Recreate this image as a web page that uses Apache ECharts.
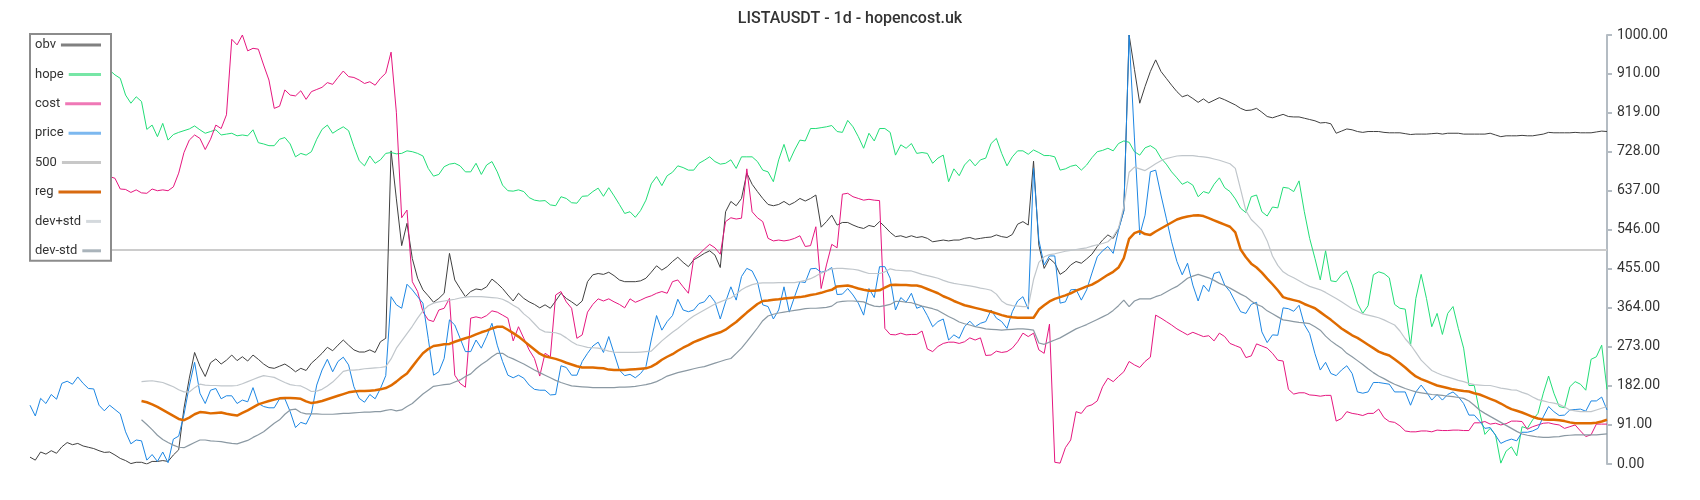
<!DOCTYPE html>
<html>
<head>
<meta charset="utf-8">
<script src="https://cdn.jsdelivr.net/npm/echarts@6/dist/echarts.min.js"></script>
<style>html,body{margin:0;padding:0;background:#fff;}#c{width:1700px;height:500px;}</style>
</head>
<body>
<div id="c"></div>
<script>
const titleText = 'LISTAUSDT - 1d - hopencost.uk';
const seriesNames = ['obv', 'hope', 'cost', 'price', '500', 'reg', 'dev+std', 'dev-std'];
const level500 = 500;
const yTickMin = 0, yTickMax = 1000, yTickStep = 91;

const obv = [
16,9,28,23,31,25,40,50,45,48,
42,39,36,31,27,28,21,13,8,1,
4,4,0,6,6,8,6,21,33,130,
200,260,228,204,236,245,233,242,254,241,
250,240,254,244,233,225,223,228,233,225,
215,223,218,235,246,258,272,264,277,289,
277,266,261,261,266,260,285,293,730,618,
509,561,479,433,406,392,377,386,398,491,
429,409,390,402,408,406,413,431,421,409,
394,380,398,386,378,372,364,371,363,380,
398,386,378,369,380,425,441,444,442,447,
439,429,425,425,425,427,433,447,462,452,
460,472,482,470,460,476,483,491,497,487,
458,588,612,602,619,678,652,635,619,605,
602,605,612,604,610,619,613,619,627,552,
565,580,557,563,563,557,552,549,556,553,
565,553,540,530,532,528,532,528,530,526,
518,520,522,520,522,522,526,528,524,526,
528,529,534,530,528,535,559,565,557,706,
510,456,479,468,442,450,464,472,468,478,
489,507,522,534,526,548,590,1000,920,841,
880,915,942,915,899,883,868,856,860,852,
843,851,842,848,854,849,843,837,829,824,
825,829,820,810,807,811,815,810,809,809,
806,803,800,795,796,793,771,776,781,779,
775,773,775,775,775,773,772,772,772,770,
768,769,769,769,770,771,769,771,771,771,
769,769,769,769,769,771,767,763,765,765,
765,766,765,765,767,769,773,772,772,772,
772,773,772,772,772,774,776,775];

const hope = [
960,955,950,948,945,940,938,935,933,930,
928,925,924,922,920,918,907,899,860,841,
856,845,780,790,763,794,755,768,773,777,
781,788,779,771,775,779,767,769,771,765,
767,765,779,749,746,742,742,757,761,746,
716,724,720,728,757,780,790,771,779,786,
777,740,707,695,718,701,709,724,726,723,
724,730,728,724,718,689,671,675,693,699,
701,695,681,681,701,675,697,705,681,650,
637,636,639,635,621,615,613,614,604,602,
623,619,609,608,624,625,635,643,624,644,
625,605,584,588,575,591,615,653,670,649,
672,680,695,691,685,685,701,708,716,705,
699,701,709,689,716,716,716,705,685,681,
658,709,745,705,732,755,753,782,782,784,
786,789,775,773,801,786,763,736,771,753,
782,782,773,720,744,736,747,724,726,724,
701,713,720,658,688,672,697,710,695,709,
713,747,759,724,695,716,730,730,722,732,
726,719,719,716,685,688,694,697,685,697,
714,728,731,736,730,747,753,750,728,720,
737,742,734,713,699,681,667,652,658,650,
623,635,631,652,667,644,635,618,596,586,
623,627,588,578,599,597,645,643,635,660,
588,526,479,429,497,427,425,441,450,417,
375,351,369,441,448,444,434,372,363,361,
276,386,442,386,320,351,302,351,367,316,
270,183,183,122,69,83,68,2,30,40,
19,87,83,103,118,165,205,165,134,131,
180,192,186,172,244,250,277,174];

const cost = [
690,688,686,684,682,680,679,678,676,675,
674,673,672,671,670,670,666,641,640,633,
639,632,631,641,637,639,637,646,678,726,
755,767,759,733,757,790,782,814,990,977,
1000,963,969,967,930,895,829,834,872,860,
858,870,850,868,873,878,889,885,901,916,
903,901,895,887,891,883,899,911,960,820,
574,592,425,402,355,336,332,359,363,386,
207,188,179,340,343,340,346,357,354,347,
340,287,320,293,266,246,205,258,250,394,
402,378,363,293,301,354,372,385,380,385,
378,372,364,385,377,382,388,392,398,402,
398,425,429,413,398,479,489,501,512,504,
489,565,574,571,573,688,588,574,565,526,
520,522,520,522,526,532,507,509,553,409,
464,512,504,629,631,623,619,615,617,615,
614,316,302,301,305,301,302,302,310,268,
262,274,281,284,284,281,285,294,289,294,
253,254,263,260,262,270,285,305,297,305,
266,258,326,4,2,38,56,122,118,134,
138,147,180,200,192,204,215,239,231,225,
239,249,347,340,332,324,315,308,301,307,
302,297,299,287,305,297,281,276,271,248,
252,280,275,270,258,242,240,174,163,166,
166,161,160,158,160,160,100,106,122,118,
116,113,118,118,128,108,99,97,89,77,
75,75,77,77,75,79,78,78,79,79,
78,78,96,96,99,93,95,91,94,100,
100,99,81,87,91,95,96,93,91,83,
87,91,77,64,68,93,93,93];

const price = [
137,112,153,141,162,151,188,193,186,203,
188,176,175,137,124,137,127,117,75,47,
56,54,9,22,6,28,3,58,65,115,
182,237,165,141,172,176,152,159,159,141,
149,145,178,141,134,131,131,152,152,122,
85,97,93,118,184,219,244,215,239,249,
231,180,153,144,162,152,176,206,390,371,
363,419,406,390,375,293,207,215,246,336,
324,293,262,262,289,270,297,328,277,239,
207,201,207,200,184,174,172,172,161,162,
229,225,207,207,239,258,275,284,260,297,
258,219,206,209,201,211,227,289,346,312,
332,346,384,359,355,359,374,378,394,378,
338,378,413,382,437,456,450,425,371,367,
338,359,413,354,390,425,423,455,456,447,
450,458,395,396,409,394,375,347,409,388,
460,460,433,359,388,377,398,363,368,346,
320,332,338,289,301,293,320,333,320,328,
332,359,340,332,316,355,380,390,361,690,
522,464,485,485,375,378,406,407,382,406,
445,483,497,507,491,545,590,1000,760,534,
580,681,685,627,573,518,472,441,468,417,
380,417,402,444,448,417,402,378,355,351,
372,377,308,283,301,300,364,362,356,370,
325,304,257,219,237,211,206,219,229,211,
168,165,168,190,190,188,186,168,168,168,
137,168,184,168,149,162,149,162,168,157,
141,114,114,100,83,85,67,48,54,58,
54,74,74,77,83,110,134,122,113,114,
126,127,128,123,147,147,156,126];

const reg = [
null,null,null,null,null,null,null,null,null,null,
null,null,null,null,null,null,null,null,null,null,
null,147,144,139,133,126,119,112,105,102,
108,116,121,120,118,119,120,117,115,113,
119,125,132,139,143,147,150,153,154,154,
153,152,146,142,144,147,151,155,159,163,
167,169,170,170,171,172,174,177,183,192,
202,211,227,243,258,268,275,277,279,280,
285,289,293,297,302,307,311,316,320,320,
313,305,297,287,277,267,257,251,248,245,
241,236,232,228,225,225,225,224,223,220,
219,219,219,220,221,222,223,227,234,243,
250,256,264,271,277,284,289,294,299,303,
307,313,322,331,342,353,363,373,380,381,
383,384,386,387,388,389,391,394,396,399,
403,406,414,415,416,413,409,406,404,404,
405,411,417,418,417,417,416,416,413,408,
403,398,391,386,380,375,370,367,364,361,
358,355,351,347,344,342,341,341,341,341,
360,370,379,385,389,393,398,404,409,414,
418,425,433,441,448,458,480,525,538,543,
536,534,542,549,556,563,570,574,577,579,
580,578,573,568,563,558,553,540,500,482,
467,458,446,432,419,405,389,385,382,379,
373,368,363,354,345,336,326,316,308,300,
294,286,278,270,262,257,253,244,235,225,
214,204,198,193,188,183,180,177,174,172,
170,169,165,162,157,152,147,141,134,128,
124,120,115,110,106,104,103,103,102,100,
97,95,95,95,95,96,99,103];

const devPlus = [
null,null,null,null,null,null,null,null,null,null,
null,null,null,null,null,null,null,null,null,null,
null,192,193,194,192,190,185,180,173,168,
168,178,186,184,183,183,182,182,182,183,
187,192,197,202,206,204,202,196,190,185,
183,182,176,169,170,174,182,191,203,216,
219,219,220,222,223,224,225,227,245,270,
287,304,321,340,357,369,375,378,380,382,
384,387,389,390,390,390,389,388,387,384,
378,370,363,350,340,327,314,308,307,306,
302,294,285,278,275,272,271,270,267,263,
261,260,260,260,260,261,262,263,275,287,
297,307,316,326,336,345,352,359,366,373,
378,383,387,396,406,413,418,421,422,422,
422,423,423,423,423,425,428,432,438,445,
450,455,456,456,455,454,452,448,444,444,
444,448,455,452,451,450,450,446,442,439,
436,433,428,424,421,419,417,415,413,410,
408,405,396,380,372,369,368,367,367,430,
470,483,488,490,493,496,498,500,502,504,
508,511,514,518,530,550,600,680,692,688,
684,692,700,707,712,715,718,719,719,719,
717,716,714,711,708,704,700,689,640,590,
570,558,545,520,485,463,448,440,434,427,
420,414,410,406,400,393,386,378,370,362,
356,350,347,344,341,336,330,324,310,292,
278,260,242,230,218,212,207,203,199,195,
192,188,185,184,183,183,180,177,175,173,
172,167,163,156,150,147,144,142,139,133,
126,124,122,122,122,126,130,134];

const devMinus = [
null,null,null,null,null,null,null,null,null,null,
null,null,null,null,null,null,null,null,null,null,
null,103,92,80,67,57,50,44,39,38,
44,50,56,56,54,53,52,50,48,47,
51,55,62,68,75,85,95,103,116,126,
128,120,117,117,117,116,116,116,117,118,
118,119,120,121,121,122,122,125,127,124,
126,134,141,152,163,172,181,183,185,186,
191,196,204,210,222,232,240,250,258,258,
250,245,239,233,226,219,213,207,201,195,
190,186,182,181,180,179,178,178,178,178,
178,179,179,180,181,183,185,188,192,198,
205,209,213,216,219,222,225,227,231,235,
239,243,246,258,270,285,301,317,334,345,
349,352,354,356,358,360,362,363,363,364,
365,368,377,379,380,380,379,378,372,368,
367,369,372,379,379,377,376,372,368,365,
362,358,351,344,338,331,327,324,320,318,
315,314,313,312,313,314,315,315,314,312,
282,279,284,289,294,301,308,315,320,325,
331,337,343,349,358,369,382,367,380,385,
385,385,390,394,401,408,414,423,433,438,
442,438,434,428,421,416,410,403,396,390,
380,372,367,357,350,343,336,334,332,330,
329,327,320,312,298,287,278,270,258,250,
241,232,222,213,205,199,192,186,181,176,
172,168,166,164,162,161,160,158,157,155,
153,147,137,126,118,111,104,97,90,83,
76,70,67,65,63,62,62,63,64,66,
67,68,68,68,68,68,69,70];

const lineColors = ['#404040', '#22dd77', '#e5177f', '#1c86e3', '#cccccc', '#df6b00', '#c0c6cb', '#8b99a3'];
const iconColors = ['#808080', '#77e6a6', '#ef78b6', '#7cb8ef', '#c8c8c8', '#d86a10', '#d4d9dd', '#aab4bb'];
const lineWidths = [1, 1, 1, 1, 2, 2.5, 1.2, 1.2];

// legend layout: text starts at x=35, icon bar runs to x=101
const LEGEND_FONT = '13px Roboto';
const measureCtx = document.createElement('canvas').getContext('2d');
measureCtx.font = LEGEND_FONT;
const legendRich = {
  t: {fontFamily: 'Roboto', fontSize: 13, color: '#333', lineHeight: 14},
  s: {width: 5, height: 3}
};
seriesNames.forEach((n, k) => {
  const w = measureCtx.measureText(n).width;
  legendRich['b' + k] = {width: Math.max(12, 61 - w), height: 3, backgroundColor: iconColors[k]};
});

const chart = echarts.init(document.getElementById('c'), null, {renderer: 'canvas'});
const dataSets = [obv, hope, cost, price, null, reg, devPlus, devMinus];

const series = seriesNames.map((name, k) => {
  const s = {
    name: name,
    type: 'line',
    symbol: 'none',
    showSymbol: false,
    connectNulls: false,
    animation: false,
    lineStyle: {color: lineColors[k], width: lineWidths[k]},
    itemStyle: {color: lineColors[k]},
    data: dataSets[k] || []
  };
  if (name === '500') {
    s.markLine = {
      silent: true,
      z: 2,
      symbol: 'none',
      label: {show: false},
      lineStyle: {color: lineColors[k], width: lineWidths[k], type: 'solid'},
      data: [{yAxis: level500}]
    };
  }
  return s;
});

chart.setOption({
  animation: false,
  backgroundColor: '#ffffff',
  title: {
    text: titleText,
    left: 'center',
    top: 11,
    padding: 0,
    textStyle: {fontFamily: 'Roboto', fontSize: 16, fontWeight: 500, color: '#333'}
  },
  legend: {
    z: 20,
    orient: 'vertical',
    left: 30,
    top: 34,
    align: 'left',
    icon: 'rect',
    itemWidth: 0,
    itemHeight: 14,
    itemGap: 15.4,
    padding: [4, 10, 3, 0],
    backgroundColor: '#ffffff',
    borderColor: '#8c8c8c',
    borderWidth: 2,
    selectedMode: false,
    formatter: name => '{t|' + name + '}{s|}{b' + seriesNames.indexOf(name) + '|}',
    textStyle: {fontFamily: 'Roboto', fontSize: 13, color: '#333', rich: legendRich},
    data: seriesNames.map((n, k) => ({
      name: n,
      icon: 'rect',
      itemStyle: {color: 'rgba(0,0,0,0)', opacity: 0, borderWidth: 0}
    }))
  },
  grid: {left: 30, right: 93, top: 35, bottom: 36, containLabel: false},
  xAxis: {
    type: 'category',
    boundaryGap: false,
    show: false
  },
  yAxis: {
    type: 'value',
    position: 'right',
    min: yTickMin,
    max: yTickMax,
    interval: yTickStep,
    splitLine: {show: false},
    axisLine: {show: true, lineStyle: {color: '#b4bcc3', width: 2}},
    axisTick: {show: true, length: 5, lineStyle: {color: '#b4bcc3', width: 2}},
    axisLabel: {
      margin: 10,
      fontFamily: 'Roboto',
      fontSize: 14,
      color: '#333',
      formatter: v => v.toFixed(2)
    }
  },
  series: series
});
</script>
</body>
</html>
